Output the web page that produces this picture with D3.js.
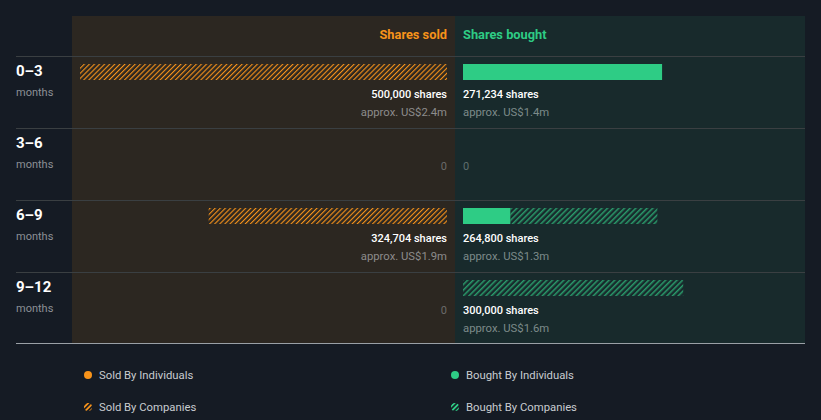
<!DOCTYPE html>
<html><head><meta charset="utf-8">
<script src="https://cdn.jsdelivr.net/npm/d3@7"></script>
<style>html,body{margin:0;padding:0;background:#151b24;}svg{display:block;font-family:Roboto,"Open Sans",sans-serif;}</style>
</head><body>
<svg id="chart" width="821" height="420"></svg>
<script>
const periods = ["0\u20133", "3\u20136", "6\u20139", "9\u201312"];
const soldIndividuals = [0, 0, 0, 0];
const soldCompanies = [500000, 0, 324704, 0];
const boughtIndividuals = [271234, 0, 64800, 0];
const boughtCompanies = [0, 0, 200000, 300000];
const soldValue = ["US$2.4m", null, "US$1.9m", null];
const boughtValue = ["US$1.4m", null, "US$1.3m", "US$1.6m"];
const legendLabels = ["Sold By Individuals", "Sold By Companies", "Bought By Individuals", "Bought By Companies"];

const svg = d3.select("#chart");
const orange = "#f7931a", green = "#2ecc85", greenHatch = "#2a9b6b";
const fmt = d3.format(",");

const defs = svg.append("defs");
function hatch(id, color, bg, size, lw) {
  const p = defs.append("pattern").attr("id", id).attr("patternUnits", "userSpaceOnUse")
    .attr("width", size).attr("height", size).attr("patternTransform", "rotate(45)");
  p.append("rect").attr("width", size).attr("height", size).attr("fill", bg);
  p.append("rect").attr("x", 0).attr("width", lw).attr("height", size).attr("fill", color);
}
hatch("hSold", orange, "#2c2721", 3.6, 1.1);
hatch("hBought", greenHatch, "#182a2c", 4, 1.5);

// panels
const topY = 16, headerH = 40, rowH = 72;
const yRow = d3.scaleBand().domain(periods).range([topY + headerH, topY + headerH + rowH * periods.length]).padding(0);
svg.append("rect").attr("x", 72).attr("y", topY).attr("width", 383).attr("height", 327).attr("fill", "#2c2721");
svg.append("rect").attr("x", 455).attr("y", topY).attr("width", 350).attr("height", 327).attr("fill", "#182a2c");

const sMax = 500000;
const xSold = d3.scaleLinear().domain([0, sMax]).range([447, 80]);
const xBought = d3.scaleLinear().domain([0, sMax]).range([463, 830]);

// headers
svg.append("text").attr("x", 447).attr("y", 35).attr("dy", "0.35em").attr("text-anchor", "end")
  .attr("fill", orange).attr("font-size", 12.8).attr("font-weight", 700).text("Shares sold");
svg.append("text").attr("x", 463).attr("y", 35).attr("dy", "0.35em")
  .attr("fill", green).attr("font-size", 12.8).attr("font-weight", 700).text("Shares bought");

// row lines
[topY + headerH].concat(periods.slice(1).map(p => yRow(p))).forEach(y => {
  svg.append("line").attr("x1", 16).attr("x2", 805).attr("y1", y + 0.5).attr("y2", y + 0.5)
    .attr("stroke", "#3a3f42").attr("stroke-width", 1);
});
svg.append("line").attr("x1", 16).attr("x2", 805).attr("y1", 343.5).attr("y2", 343.5)
  .attr("stroke", "#9aa0a6").attr("stroke-width", 1);

periods.forEach((p, i) => {
  const y0 = yRow(p);
  const g = svg.append("g");
  g.append("text").attr("x", 16).attr("y", y0 + 15).attr("dy", "0.35em").attr("fill", "#ffffff")
    .attr("font-size", 15).attr("font-weight", 700).text(p);
  g.append("text").attr("x", 16).attr("y", y0 + 36).attr("dy", "0.35em").attr("fill", "#8c9096")
    .attr("font-size", 11).text("months");

  // sold
  const sTot = soldIndividuals[i] + soldCompanies[i];
  if (sTot > 0) {
    if (soldIndividuals[i] > 0)
      g.append("rect").attr("x", xSold(soldIndividuals[i])).attr("y", y0 + 8)
        .attr("width", xSold(0) - xSold(soldIndividuals[i])).attr("height", 16).attr("fill", orange);
    if (soldCompanies[i] > 0)
      g.append("rect").attr("x", xSold(sTot)).attr("y", y0 + 8)
        .attr("width", xSold(soldIndividuals[i]) - xSold(sTot)).attr("height", 16).attr("fill", "url(#hSold)");
    g.append("text").attr("x", 447).attr("y", y0 + 38).attr("dy", "0.35em").attr("text-anchor", "end")
      .attr("fill", "#ffffff").attr("font-size", 11).attr("font-weight", 500).text(fmt(sTot) + " shares");
    g.append("text").attr("x", 447).attr("y", y0 + 56).attr("dy", "0.35em").attr("text-anchor", "end")
      .attr("fill", "#8c8c8c").attr("font-size", 11.3).text("approx. " + soldValue[i]);
  } else {
    g.append("text").attr("x", 447).attr("y", y0 + 38).attr("dy", "0.35em").attr("text-anchor", "end")
      .attr("fill", "#6b6b6b").attr("font-size", 11).text("0");
  }

  // bought
  const bTot = boughtIndividuals[i] + boughtCompanies[i];
  if (bTot > 0) {
    if (boughtIndividuals[i] > 0)
      g.append("rect").attr("x", xBought(0)).attr("y", y0 + 8)
        .attr("width", xBought(boughtIndividuals[i]) - xBought(0)).attr("height", 16).attr("fill", green);
    if (boughtCompanies[i] > 0)
      g.append("rect").attr("x", xBought(boughtIndividuals[i])).attr("y", y0 + 8)
        .attr("width", xBought(bTot) - xBought(boughtIndividuals[i])).attr("height", 16).attr("fill", "url(#hBought)");
    g.append("text").attr("x", 463).attr("y", y0 + 38).attr("dy", "0.35em")
      .attr("fill", "#ffffff").attr("font-size", 11).attr("font-weight", 500).text(fmt(bTot) + " shares");
    g.append("text").attr("x", 463).attr("y", y0 + 56).attr("dy", "0.35em")
      .attr("fill", "#7d8a8a").attr("font-size", 11.3).text("approx. " + boughtValue[i]);
  } else {
    g.append("text").attr("x", 463).attr("y", y0 + 38).attr("dy", "0.35em")
      .attr("fill", "#5f6e6e").attr("font-size", 11).text("0");
  }
});

// legend
const legPos = [[88, 375], [88, 407], [455, 375], [455, 407]];
const legFill = [orange, "url(#hSoldL)", green, "url(#hBoughtL)"];
function hatchL(id, color) {
  const p = defs.append("pattern").attr("id", id).attr("patternUnits", "userSpaceOnUse")
    .attr("width", 3.5).attr("height", 3.5).attr("patternTransform", "rotate(45)");
  p.append("rect").attr("width", 3.5).attr("height", 3.5).attr("fill", "#151b24");
  p.append("rect").attr("width", 1.8).attr("height", 3.5).attr("fill", color);
}
hatchL("hSoldL", orange);
hatchL("hBoughtL", green);
legendLabels.forEach((l, i) => {
  const [x, y] = legPos[i];
  svg.append("circle").attr("cx", x).attr("cy", y).attr("r", 4).attr("fill", legFill[i]);
  svg.append("text").attr("x", x + 11).attr("y", y).attr("dy", "0.35em").attr("fill", "#c8ccd0")
    .attr("font-size", 11.3).text(l);
});
</script>
</body></html>
